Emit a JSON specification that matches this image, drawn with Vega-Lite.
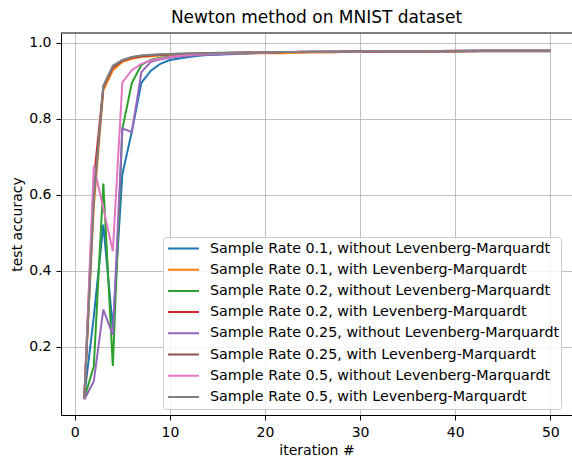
{
  "$schema": "https://vega.github.io/schema/vega-lite/v6.json",
  "width": 511,
  "height": 382,
  "autosize": {"type": "none"},
  "padding": {"left": 61, "top": 33, "right": 0, "bottom": 44},
  "background": "white",
  "title": {"text": "Newton method on MNIST dataset", "fontSize": 17, "font": "DejaVu Sans", "fontWeight": "normal", "color": "black", "offset": 6},
  "datasets": {
    "names": [
      {"k": "a", "series": "Sample Rate 0.1, without Levenberg-Marquardt"},
      {"k": "b", "series": "Sample Rate 0.1, with Levenberg-Marquardt"},
      {"k": "c", "series": "Sample Rate 0.2, without Levenberg-Marquardt"},
      {"k": "d", "series": "Sample Rate 0.2, with Levenberg-Marquardt"},
      {"k": "e", "series": "Sample Rate 0.25, without Levenberg-Marquardt"},
      {"k": "f", "series": "Sample Rate 0.25, with Levenberg-Marquardt"},
      {"k": "g", "series": "Sample Rate 0.5, without Levenberg-Marquardt"},
      {"k": "h", "series": "Sample Rate 0.5, with Levenberg-Marquardt"}
    ],
    "acc": [
      {"i": 1, "a": 0.070, "b": 0.065, "c": 0.065, "d": 0.065, "e": 0.062, "f": 0.063, "g": 0.063, "h": 0.063},
      {"i": 2, "a": 0.280, "b": 0.570, "c": 0.149, "d": 0.640, "e": 0.110, "f": 0.600, "g": 0.676, "h": 0.590},
      {"i": 3, "a": 0.522, "b": 0.875, "c": 0.630, "d": 0.885, "e": 0.298, "f": 0.884, "g": 0.565, "h": 0.887},
      {"i": 4, "a": 0.250, "b": 0.928, "c": 0.150, "d": 0.935, "e": 0.232, "f": 0.936, "g": 0.452, "h": 0.940},
      {"i": 5, "a": 0.654, "b": 0.950, "c": 0.773, "d": 0.953, "e": 0.775, "f": 0.954, "g": 0.896, "h": 0.955},
      {"i": 6, "a": 0.767, "b": 0.958, "c": 0.895, "d": 0.961, "e": 0.765, "f": 0.962, "g": 0.928, "h": 0.963},
      {"i": 7, "a": 0.895, "b": 0.963, "c": 0.942, "d": 0.965, "e": 0.923, "f": 0.966, "g": 0.945, "h": 0.967},
      {"i": 8, "a": 0.927, "b": 0.965, "c": 0.956, "d": 0.967, "e": 0.950, "f": 0.968, "g": 0.954, "h": 0.969},
      {"i": 9, "a": 0.945, "b": 0.967, "c": 0.961, "d": 0.969, "e": 0.957, "f": 0.969, "g": 0.959, "h": 0.970},
      {"i": 10, "a": 0.955, "b": 0.968, "c": 0.964, "d": 0.970, "e": 0.961, "f": 0.970, "g": 0.963, "h": 0.971},
      {"i": 11, "a": 0.959, "b": 0.969, "c": 0.966, "d": 0.971, "e": 0.964, "f": 0.971, "g": 0.966, "h": 0.972},
      {"i": 12, "a": 0.963, "b": 0.970, "c": 0.968, "d": 0.971, "e": 0.966, "f": 0.972, "g": 0.968, "h": 0.972},
      {"i": 13, "a": 0.966, "b": 0.970, "c": 0.969, "d": 0.972, "e": 0.968, "f": 0.972, "g": 0.970, "h": 0.973},
      {"i": 14, "a": 0.968, "b": 0.971, "c": 0.970, "d": 0.972, "e": 0.969, "f": 0.973, "g": 0.971, "h": 0.973},
      {"i": 15, "a": 0.969, "b": 0.971, "c": 0.971, "d": 0.973, "e": 0.970, "f": 0.973, "g": 0.972, "h": 0.974},
      {"i": 16, "a": 0.970, "b": 0.972, "c": 0.972, "d": 0.973, "e": 0.971, "f": 0.974, "g": 0.973, "h": 0.974},
      {"i": 17, "a": 0.971, "b": 0.972, "c": 0.973, "d": 0.974, "e": 0.972, "f": 0.974, "g": 0.974, "h": 0.975},
      {"i": 18, "a": 0.972, "b": 0.972, "c": 0.973, "d": 0.974, "e": 0.973, "f": 0.975, "g": 0.974, "h": 0.975},
      {"i": 19, "a": 0.973, "b": 0.973, "c": 0.974, "d": 0.975, "e": 0.974, "f": 0.975, "g": 0.975, "h": 0.975},
      {"i": 20, "a": 0.974, "b": 0.973, "c": 0.975, "d": 0.975, "e": 0.975, "f": 0.976, "g": 0.975, "h": 0.976},
      {"i": 21, "a": 0.974, "b": 0.973, "c": 0.975, "d": 0.975, "e": 0.975, "f": 0.976, "g": 0.976, "h": 0.976},
      {"i": 22, "a": 0.975, "b": 0.973, "c": 0.976, "d": 0.976, "e": 0.976, "f": 0.976, "g": 0.976, "h": 0.976},
      {"i": 23, "a": 0.975, "b": 0.974, "c": 0.976, "d": 0.976, "e": 0.976, "f": 0.976, "g": 0.976, "h": 0.976},
      {"i": 24, "a": 0.976, "b": 0.974, "c": 0.976, "d": 0.976, "e": 0.976, "f": 0.977, "g": 0.977, "h": 0.977},
      {"i": 25, "a": 0.976, "b": 0.975, "c": 0.977, "d": 0.976, "e": 0.977, "f": 0.977, "g": 0.977, "h": 0.977},
      {"i": 26, "a": 0.976, "b": 0.975, "c": 0.977, "d": 0.977, "e": 0.977, "f": 0.977, "g": 0.977, "h": 0.977},
      {"i": 27, "a": 0.976, "b": 0.975, "c": 0.977, "d": 0.977, "e": 0.977, "f": 0.977, "g": 0.977, "h": 0.977},
      {"i": 28, "a": 0.977, "b": 0.976, "c": 0.977, "d": 0.977, "e": 0.977, "f": 0.977, "g": 0.977, "h": 0.977},
      {"i": 29, "a": 0.977, "b": 0.976, "c": 0.977, "d": 0.977, "e": 0.977, "f": 0.978, "g": 0.977, "h": 0.977},
      {"i": 30, "a": 0.977, "b": 0.976, "c": 0.977, "d": 0.977, "e": 0.978, "f": 0.978, "g": 0.977, "h": 0.978},
      {"i": 31, "a": 0.977, "b": 0.976, "c": 0.978, "d": 0.977, "e": 0.978, "f": 0.978, "g": 0.978, "h": 0.978},
      {"i": 32, "a": 0.977, "b": 0.977, "c": 0.978, "d": 0.978, "e": 0.978, "f": 0.978, "g": 0.978, "h": 0.978},
      {"i": 33, "a": 0.977, "b": 0.977, "c": 0.978, "d": 0.978, "e": 0.978, "f": 0.978, "g": 0.978, "h": 0.978},
      {"i": 34, "a": 0.977, "b": 0.977, "c": 0.978, "d": 0.978, "e": 0.978, "f": 0.978, "g": 0.978, "h": 0.978},
      {"i": 35, "a": 0.977, "b": 0.977, "c": 0.978, "d": 0.978, "e": 0.978, "f": 0.978, "g": 0.978, "h": 0.978},
      {"i": 36, "a": 0.977, "b": 0.977, "c": 0.978, "d": 0.978, "e": 0.978, "f": 0.978, "g": 0.978, "h": 0.978},
      {"i": 37, "a": 0.978, "b": 0.977, "c": 0.978, "d": 0.978, "e": 0.978, "f": 0.978, "g": 0.978, "h": 0.978},
      {"i": 38, "a": 0.978, "b": 0.977, "c": 0.978, "d": 0.978, "e": 0.978, "f": 0.978, "g": 0.978, "h": 0.978},
      {"i": 39, "a": 0.978, "b": 0.977, "c": 0.978, "d": 0.978, "e": 0.978, "f": 0.979, "g": 0.978, "h": 0.978},
      {"i": 40, "a": 0.978, "b": 0.977, "c": 0.978, "d": 0.978, "e": 0.979, "f": 0.979, "g": 0.978, "h": 0.978},
      {"i": 41, "a": 0.978, "b": 0.978, "c": 0.978, "d": 0.978, "e": 0.979, "f": 0.979, "g": 0.978, "h": 0.979},
      {"i": 42, "a": 0.978, "b": 0.978, "c": 0.979, "d": 0.978, "e": 0.979, "f": 0.979, "g": 0.979, "h": 0.979},
      {"i": 43, "a": 0.978, "b": 0.978, "c": 0.979, "d": 0.979, "e": 0.979, "f": 0.979, "g": 0.979, "h": 0.979},
      {"i": 44, "a": 0.978, "b": 0.978, "c": 0.979, "d": 0.979, "e": 0.979, "f": 0.979, "g": 0.979, "h": 0.979},
      {"i": 45, "a": 0.978, "b": 0.978, "c": 0.979, "d": 0.979, "e": 0.979, "f": 0.979, "g": 0.979, "h": 0.979},
      {"i": 46, "a": 0.978, "b": 0.978, "c": 0.979, "d": 0.979, "e": 0.979, "f": 0.979, "g": 0.979, "h": 0.979},
      {"i": 47, "a": 0.978, "b": 0.978, "c": 0.979, "d": 0.979, "e": 0.979, "f": 0.979, "g": 0.979, "h": 0.979},
      {"i": 48, "a": 0.978, "b": 0.978, "c": 0.979, "d": 0.979, "e": 0.979, "f": 0.979, "g": 0.979, "h": 0.979},
      {"i": 49, "a": 0.978, "b": 0.978, "c": 0.979, "d": 0.979, "e": 0.979, "f": 0.979, "g": 0.979, "h": 0.979},
      {"i": 50, "a": 0.978, "b": 0.978, "c": 0.979, "d": 0.979, "e": 0.979, "f": 0.979, "g": 0.979, "h": 0.979}
    ]
  },
  "layer": [
    {
      "data": {"name": "acc"},
      "transform": [
        {"fold": ["a", "b", "c", "d", "e", "f", "g", "h"], "as": ["k", "acc"]},
        {"lookup": "k", "from": {"data": {"name": "names"}, "key": "k", "fields": ["series"]}}
      ],
      "mark": {"type": "line", "strokeWidth": 2, "clip": true},
      "encoding": {
        "x": {
          "field": "i", "type": "quantitative",
          "scale": {"domain": [-1.45, 52.28], "nice": false, "zero": false},
          "axis": {"values": [0, 10, 20, 30, 40, 50], "title": "iteration #", "format": "d"}
        },
        "y": {
          "field": "acc", "type": "quantitative",
          "scale": {"domain": [0.021, 1.026], "nice": false, "zero": false},
          "axis": {"values": [0.2, 0.4, 0.6, 0.8, 1.0], "format": ".1f"},
          "title": "test accuracy"
        },
        "color": {
          "field": "series", "type": "nominal",
          "scale": {
            "domain": [
              "Sample Rate 0.1, without Levenberg-Marquardt",
              "Sample Rate 0.1, with Levenberg-Marquardt",
              "Sample Rate 0.2, without Levenberg-Marquardt",
              "Sample Rate 0.2, with Levenberg-Marquardt",
              "Sample Rate 0.25, without Levenberg-Marquardt",
              "Sample Rate 0.25, with Levenberg-Marquardt",
              "Sample Rate 0.5, without Levenberg-Marquardt",
              "Sample Rate 0.5, with Levenberg-Marquardt"
            ],
            "range": ["#1f77b4", "#ff7f0e", "#2ca02c", "#d62728", "#9467bd", "#8c564b", "#e377c2", "#7f7f7f"]
          },
          "legend": {
            "orient": "none", "legendX": 102, "legendY": 204, "title": null,
            "symbolType": "stroke", "symbolSize": 961, "symbolStrokeWidth": 2,
            "labelFont": "DejaVu Sans", "labelFontSize": 14.3, "labelColor": "black",
            "labelOffset": 10, "rowPadding": 0.2, "clipHeight": 21, "padding": 1, "symbolOffset": 3,
            "fillColor": "rgba(255,255,255,0.8)", "strokeColor": "#cccccc", "cornerRadius": 3,
            "labelLimit": 420
          }
        }
      }
    },
    {
      "data": {"values": [{}]},
      "mark": {"type": "rule", "color": "black", "strokeWidth": 1},
      "encoding": {
        "y": {"datum": 1.026, "type": "quantitative", "title": "test accuracy"}
      }
    }
  ],
  "config": {
    "view": {"stroke": null},
    "axis": {
      "labelFont": "DejaVu Sans", "labelFontSize": 14, "labelColor": "black",
      "titleFont": "DejaVu Sans", "titleFontSize": 14, "titleFontWeight": "normal", "titleColor": "black",
      "domainColor": "black", "domainWidth": 1, "tickColor": "black", "tickSize": 5, "labelPadding": 5,
      "gridColor": "#b0b0b0", "gridWidth": 0.8, "titlePadding": 4
    }
  }
}
